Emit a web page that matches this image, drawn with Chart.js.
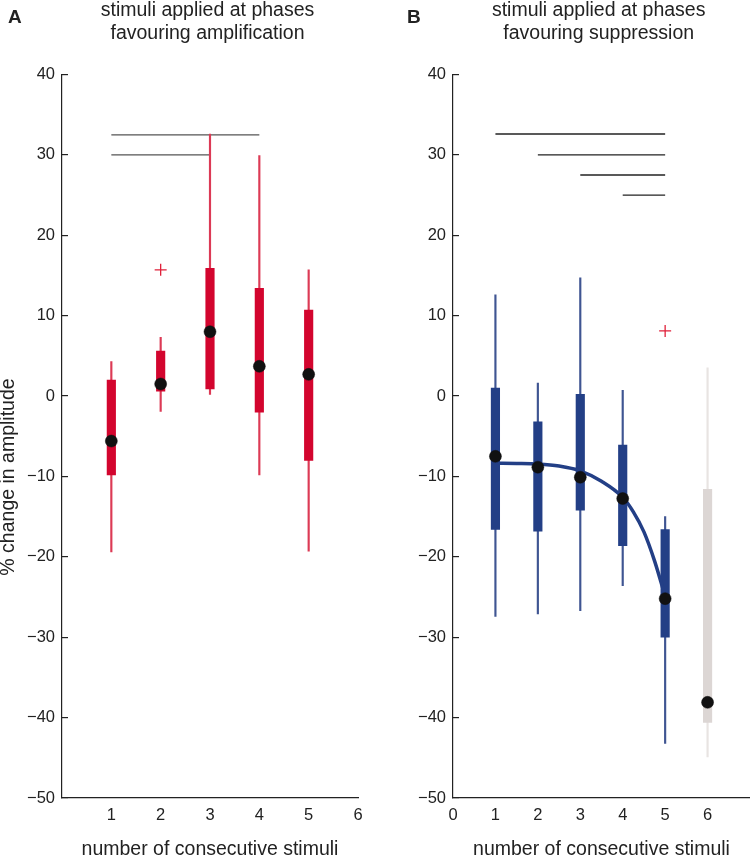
<!DOCTYPE html>
<html>
<head>
<meta charset="utf-8">
<script src="https://cdn.jsdelivr.net/npm/chart.js@4.4.0/dist/chart.umd.min.js"></script>
<style>
  html, body { margin: 0; padding: 0; background: #fff; }
  .panel { position: absolute; top: 0; width: 375px; height: 855px; }
</style>
</head>
<body>
<div class="panel" style="left:0"><canvas id="chartA"></canvas></div>
<div class="panel" style="left:375px"><canvas id="chartB"></canvas></div>
<script>
// A: stimuli applied at phases favouring amplification
const stimuliA = [1, 2, 3, 4, 5];
const whiskerLowA = [-19.4, -1.9, 0.2, -9.8, -19.3];
const q1A = [-9.8, 0.6, 0.9, -2.0, -8.0];
const medianA = [-5.6, 1.5, 8.0, 3.7, 2.7];
const q3A = [2.0, 5.6, 15.9, 13.4, 10.7];
const whiskerHighA = [4.3, 7.3, 32.6, 29.9, 15.7];
const outlierXA = [2];
const outlierYA = [15.7];
const sigFromA = [1, 1];
const sigToA = [4, 3];
const sigYA = [32.5, 30];

// B: stimuli applied at phases favouring suppression (6 = grey group)
const stimuliB = [1, 2, 3, 4, 5, 6];
const whiskerLowB = [-27.4, -27.1, -26.7, -23.6, -43.2, -44.9];
const q1B = [-16.6, -16.8, -14.2, -18.6, -30.0, -40.6];
const medianB = [-7.5, -8.85, -10.1, -12.75, -25.2, -38.1];
const q3B = [1.0, -3.2, 0.2, -6.1, -16.6, -11.6];
const whiskerHighB = [12.6, 1.6, 14.7, 0.7, -15.0, 3.5];
const outlierXB = [5];
const outlierYB = [8.1];
const sigFromB = [1, 2, 3, 4];
const sigToB = [5, 5, 5, 5];
const sigYB = [32.6, 30, 27.5, 25];
const fitXB = [1, 1.5, 2, 2.5, 3, 3.5, 4, 4.25, 4.5, 4.75, 5];
const fitYB = [-8.35, -8.38, -8.45, -8.7, -9.3, -10.6, -12.6, -14.4, -16.9, -20.5, -24.9];

const tickY = [-50, -40, -30, -20, -10, 0, 10, 20, 30, 40];
const tickXA = [1, 2, 3, 4, 5, 6];
const tickXB = [0, 1, 2, 3, 4, 5, 6];

const FONT = '"Liberation Sans", Arial, sans-serif';
const INK = "#222";

// headings, panel letter and y title are drawn here so they sit where the figure has them
const headerText = {
  id: "headerText",
  afterDraw(chart, args, o) {
    const ctx = chart.ctx;
    ctx.save();
    ctx.fillStyle = INK;
    ctx.textBaseline = "middle";
    ctx.font = "bold 19px " + FONT;
    ctx.textAlign = "left";
    ctx.fillText(o.letter, o.letterX, 17.5);
    ctx.font = "19.5px " + FONT;
    ctx.textAlign = "center";
    o.title.forEach((t, i) => ctx.fillText(t, o.titleX, 10.5 + i * 23.5));
    if (o.yTitle) {
      ctx.translate(9, 477);
      ctx.rotate(-Math.PI / 2);
      ctx.fillText(o.yTitle, 0, 0);
    }
    ctx.restore();
  },
};

const toXY = (xs, ys) => xs.map((x, i) => ({ x, y: ys[i] }));
const toRange = (xs, lo, hi) => xs.map((x, i) => ({ x, y: [lo[i], hi[i]] }));
const minus = (v) => (v < 0 ? "\u2212" + Math.abs(v) : String(v));

function boxChart(id, d) {
  const sigLines = d.sigY.map((y, i) => ({
    type: "line",
    data: [{ x: d.sigFrom[i], y }, { x: d.sigTo[i], y }],
    borderColor: d.sigColor,
    borderWidth: 1.3,
    pointRadius: 0,
    order: 6,
  }));

  const datasets = [
    ...sigLines,
    {
      type: "bar",
      data: toRange(d.x, d.wLow, d.wHigh),
      backgroundColor: d.whiskerColors,
      barThickness: 1.5,
      grouped: false,
      order: 5,
    },
    {
      type: "bar",
      data: toRange(d.x, d.q1, d.q3),
      backgroundColor: d.boxColors,
      barThickness: 8.5,
      grouped: false,
      order: 4,
    },
  ];

  if (d.fitX) {
    datasets.push({
      type: "line",
      data: toXY(d.fitX, d.fitY),
      borderColor: "#233f86",
      borderWidth: 3.5,
      cubicInterpolationMode: "monotone",
      pointRadius: 0,
      order: 3,
    });
  }

  datasets.push(
    {
      type: "line",
      data: toXY(d.x, d.median),
      showLine: false,
      pointRadius: 6,
      pointBackgroundColor: "#111",
      pointBorderColor: "#111",
      pointBorderWidth: 0.5,
      order: 1,
    },
    {
      type: "line",
      data: toXY(d.outX, d.outY),
      showLine: false,
      pointStyle: "cross",
      pointRadius: 6,
      pointBorderColor: "#e0203a",
      pointBorderWidth: 1.3,
      order: 0,
    }
  );

  return new Chart(document.getElementById(id), {
    type: "bar",
    data: { datasets },
    plugins: [headerText],
    options: {
      responsive: true,
      maintainAspectRatio: false,
      animation: false,
      layout: { autoPadding: false, padding: { top: 74.5, right: d.padRight, bottom: 0, left: 0 } },
      plugins: {
        legend: { display: false },
        tooltip: { enabled: false },
        headerText: d.header,
      },
      scales: {
        x: {
          type: "linear",
          min: 0,
          max: d.xMax,
          offset: false,
          afterBuildTicks: (s) => { s.ticks = d.tickX.map((v) => ({ value: v })); },
          afterFit: (s) => {
            s.height = 57;
            s.paddingLeft = 0;
            s.paddingRight = 0;
          },
          grid: { display: false, drawTicks: false, offset: false },
          border: { display: true, color: INK, width: 1.2 },
          ticks: { padding: 8, color: INK, font: { family: FONT, size: 16.5 }, callback: (v) => String(v) },
          title: {
            display: true,
            text: "number of consecutive stimuli",
            color: INK,
            font: { family: FONT, size: 19.5, lineHeight: 1 },
            padding: { top: 0, bottom: -4 },
          },
        },
        y: {
          min: -50,
          max: 40,
          afterBuildTicks: (s) => { s.ticks = tickY.map((v) => ({ value: v })); },
          afterFit: (s) => { s.width = d.yWidth; },
          grid: { display: true, drawOnChartArea: false, drawTicks: true, tickLength: -6, color: INK, lineWidth: 1.2 },
          border: { display: true, color: INK, width: 1.2 },
          ticks: { padding: 13, color: INK, font: { family: FONT, size: 16.5 }, callback: minus },
        },
      },
    },
  });
}

boxChart("chartA", {
  x: stimuliA, wLow: whiskerLowA, q1: q1A, median: medianA, q3: q3A, wHigh: whiskerHighA,
  outX: outlierXA, outY: outlierYA,
  sigFrom: sigFromA, sigTo: sigToA, sigY: sigYA, sigColor: "#555",
  boxColors: "#d3052e",
  whiskerColors: "#dc3a55",
  tickX: tickXA, xMax: 6, yWidth: 62, padRight: 17,
  header: {
    letter: "A", letterX: 8, titleX: 207.5,
    title: ["stimuli applied at phases", "favouring amplification"],
    yTitle: "% change in amplitude",
  },
});

boxChart("chartB", {
  x: stimuliB, wLow: whiskerLowB, q1: q1B, median: medianB, q3: q3B, wHigh: whiskerHighB,
  outX: outlierXB, outY: outlierYB,
  sigFrom: sigFromB, sigTo: sigToB, sigY: sigYB, sigColor: "#222",
  boxColors: stimuliB.map((x) => (x === 6 ? "#dcd6d4" : "#233f86")),
  whiskerColors: stimuliB.map((x) => (x === 6 ? "#e8e4e2" : "#3f5592")),
  fitX: fitXB, fitY: fitYB,
  tickX: tickXB, xMax: 7, yWidth: 78, padRight: 0,
  header: {
    letter: "B", letterX: 32, titleX: 223.7,
    title: ["stimuli applied at phases", "favouring suppression"],
  },
});
</script>
</body>
</html>
